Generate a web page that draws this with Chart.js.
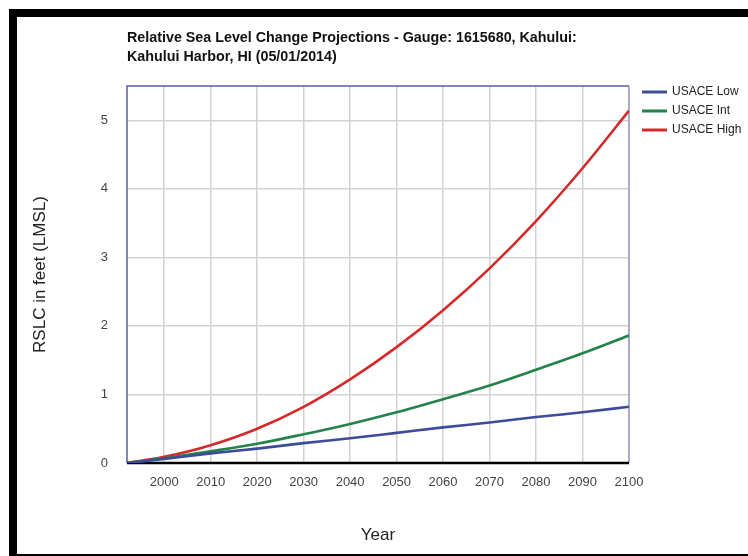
<!DOCTYPE html>
<html>
<head>
<meta charset="utf-8">
<title>Relative Sea Level Change Projections - Kahului</title>
<script src="https://cdn.jsdelivr.net/npm/chart.js@4.4.1/dist/chart.umd.min.js"></script>
<style>
  html,body{margin:0;padding:0;background:#fff;}
  #wrap{position:relative;width:748px;height:556px;overflow:hidden;}
</style>
</head>
<body>
<div id="wrap"><canvas id="chart" width="748" height="556"></canvas></div>
<script>
/* ── Data ── */
const years=[1992,2000,2010,2020,2030,2040,2050,2060,2070,2080,2090,2100];
const usaceLow=[0,0.06,0.14,0.21,0.29,0.36,0.44,0.52,0.59,0.67,0.74,0.82];
const usaceInt=[0,0.07,0.17,0.28,0.42,0.57,0.74,0.93,1.13,1.36,1.60,1.86];
const usaceHigh=[0,0.09,0.26,0.50,0.82,1.22,1.69,2.23,2.84,3.53,4.30,5.14];
const seriesNames=['USACE Low','USACE Int','USACE High'];
const seriesColors=['#3b4c9b','#23834b','#d42a2a'];
const xTicks=[2000,2010,2020,2030,2040,2050,2060,2070,2080,2090,2100];
const yTicks=[0,1,2,3,4,5];
const titleLines=['Relative Sea Level Change Projections - Gauge: 1615680, Kahului:','Kahului Harbor, HI (05/01/2014)'];

const FONT='Arial, "Liberation Sans", sans-serif';
const pts=arr=>years.map((x,i)=>({x,y:arr[i]}));

/* ── Frame, titles and legend ── */
const decor={
  id:'decor',
  beforeDatasetsDraw(chart){
    const {ctx,chartArea:a}=chart;
    ctx.save();
    ctx.lineWidth=1.5;
    ctx.strokeStyle='#5b5ba8';
    ctx.beginPath();ctx.moveTo(a.left,a.bottom);ctx.lineTo(a.left,a.top);ctx.lineTo(a.right,a.top);ctx.stroke();
    ctx.strokeStyle='#9a9abb';
    ctx.beginPath();ctx.moveTo(a.right,a.top);ctx.lineTo(a.right,a.bottom);ctx.stroke();
    ctx.strokeStyle='#000';ctx.lineWidth=2.5;
    ctx.beginPath();ctx.moveTo(a.left,a.bottom);ctx.lineTo(a.right,a.bottom);ctx.stroke();
    ctx.restore();
  },
  afterDraw(chart){
    const {ctx,chartArea:a}=chart;
    ctx.save();
    // outer black frame
    ctx.fillStyle='#000';
    ctx.fillRect(9,9,748,8);
    ctx.fillRect(9,9,8,547);
    ctx.fillRect(9,554,748,2);
    // title
    ctx.fillStyle='#111';
    ctx.font='bold 14.3px '+FONT;
    ctx.textAlign='left';ctx.textBaseline='middle';
    titleLines.forEach((t,i)=>ctx.fillText(t,a.left,38+i*19));
    // axis titles
    ctx.fillStyle='#222';
    ctx.font='17px '+FONT;
    ctx.textAlign='center';
    ctx.fillText('Year',(a.left+a.right)/2,535);
    ctx.translate(40,(a.top+a.bottom)/2);
    ctx.rotate(-Math.PI/2);
    ctx.fillText('RSLC in feet (LMSL)',0,0);
    ctx.restore();
    // legend
    ctx.save();
    ctx.font='12px '+FONT;
    ctx.textAlign='left';ctx.textBaseline='middle';
    seriesNames.forEach((n,i)=>{
      const y=92+i*19;
      ctx.strokeStyle=seriesColors[i];ctx.lineWidth=3;
      ctx.beginPath();ctx.moveTo(642,y);ctx.lineTo(667,y);ctx.stroke();
      ctx.fillStyle='#222';
      ctx.fillText(n,672,y);
    });
    ctx.restore();
  }
};

new Chart(document.getElementById('chart'),{
  type:'line',
  data:{
    datasets:[usaceLow,usaceInt,usaceHigh].map((arr,i)=>({
      label:seriesNames[i],
      data:pts(arr),
      borderColor:seriesColors[i],
      backgroundColor:seriesColors[i],
      borderWidth:2.6,
      pointRadius:0,
      cubicInterpolationMode:'monotone',
      fill:false
    }))
  },
  options:{
    responsive:false,
    animation:false,
    devicePixelRatio:1,
    layout:{padding:{left:60,top:86,right:119,bottom:40}},
    plugins:{legend:{display:false},title:{display:false},tooltip:{enabled:false}},
    scales:{
      x:{
        type:'linear',min:1992,max:2100,
        afterBuildTicks:s=>{s.ticks=xTicks.map(v=>({value:v}));},
        afterFit:s=>{s.height=53;},
        grid:{color:'#d2d2d2',lineWidth:1.5,drawTicks:false},
        border:{display:false},
        ticks:{color:'#444',font:{family:FONT,size:13},padding:12,maxRotation:0,autoSkip:false,callback:v=>String(v)}
      },
      y:{
        min:0,max:5.5,
        afterBuildTicks:s=>{s.ticks=yTicks.map(v=>({value:v}));},
        afterFit:s=>{s.width=67;},
        grid:{color:'#d2d2d2',lineWidth:1.5,drawTicks:false},
        border:{display:false},
        ticks:{color:'#444',font:{family:FONT,size:13},padding:19}
      }
    }
  },
  plugins:[decor]
});
</script>
</body>
</html>
